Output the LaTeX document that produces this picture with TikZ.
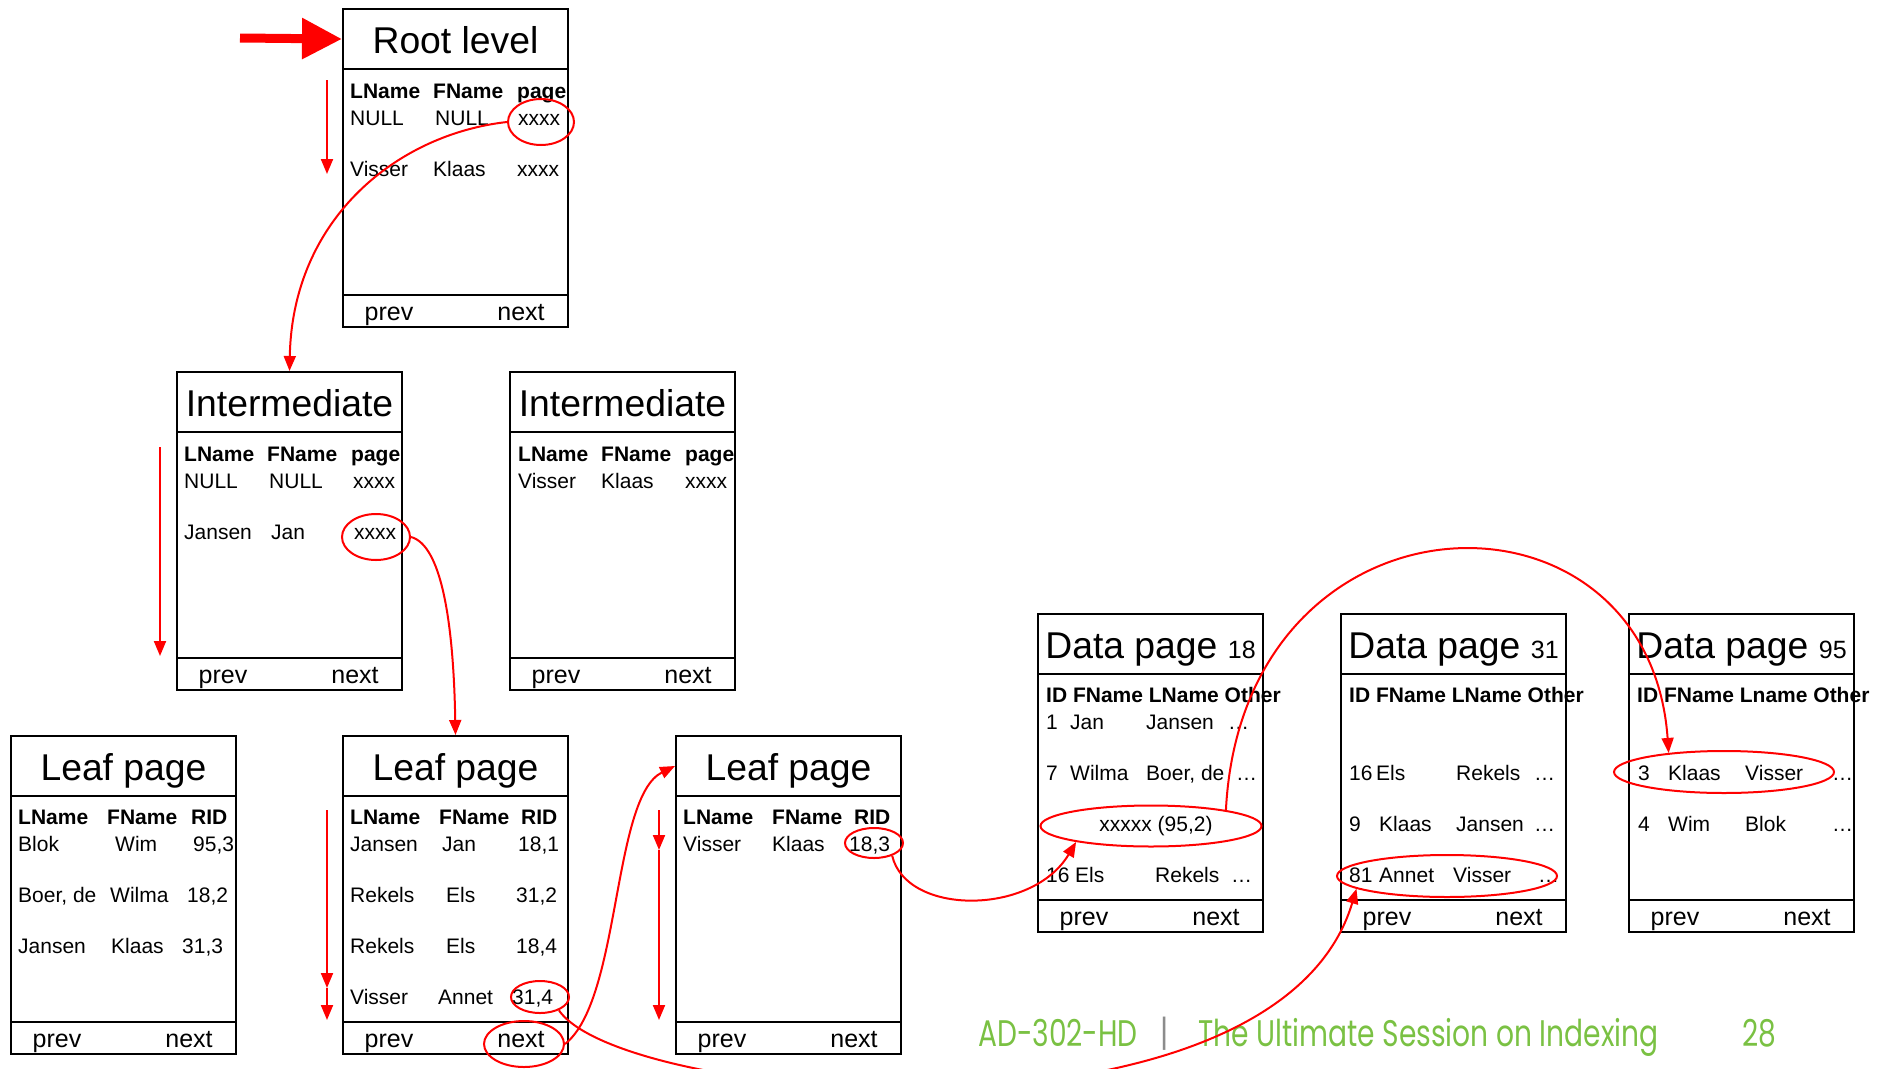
\documentclass[tikz,border=0pt]{standalone}
\usepackage{fontspec}
\setmainfont{Liberation Sans}
\newfontfamily\slidefont[FakeStretch=0.76]{Poppins}
\usetikzlibrary{arrows.meta,positioning,calc,shapes.geometric}
\definecolor{hlred}{RGB}{255,0,0}
\definecolor{slidegreen}{RGB}{122,193,67}
\definecolor{slidegray}{RGB}{140,140,140}

% one index page: frame, title band, prev/next band
\newcommand\idxpage[2]{%
  \node[pagebox] (#1) at (0,0) {};
  \node[titlebox] (#1-t) at (0,0) {#2};
  \draw[line width=2pt] (0,287) -- (225,287);
  \node[foot] (#1-prev) at (47,312) {prev};
  \node[foot] (#1-next) at (179,312) {next};
}
% one row of cells: name, style, baseline, x/text list
\newcommand\idxrow[4]{%
  \foreach \colx/\coltxt [count=\ci] in {#4}
    \node[#2] (#1-\ci) at (\colx,#3) {\coltxt};
}

\begin{document}
\begin{tikzpicture}[x=1pt, y=-1pt,
    pagebox/.style={draw, line width=2pt, minimum width=225pt, minimum height=318pt, anchor=north west, inner sep=0pt},
    titlebox/.style={draw, line width=2pt, minimum width=225pt, minimum height=60pt, anchor=north west, inner sep=0pt,
      text height=31pt, text depth=3pt, font=\fontsize{37.3}{42}\selectfont},
    hd/.style={anchor=base west, inner sep=0pt, font=\fontsize{21}{24}\selectfont\bfseries},
    cell/.style={anchor=base west, inner sep=0pt, font=\fontsize{21}{24}\selectfont},
    foot/.style={anchor=base, inner sep=0pt, font=\fontsize{25}{28}\selectfont},
    hit/.style={ellipse, draw=hlred, line width=2pt, inner sep=0pt},
    link/.style={hlred, line width=2pt, -{Triangle[length=15pt,width=12pt]}},
    slidetxt/.style={anchor=base west, inner sep=0pt, text=slidegreen, font={\fontsize{37}{40}\slidefont}}]
  \useasboundingbox (0,0) rectangle (1878,1068);
  \clip (0,0) rectangle (1878,1068);

  % root
  \begin{scope}[shift={(342,8)}]
    \idxpage{root}{Root level}
    \idxrow{root-h}{hd}{90}{8/LName, 91/FName, 175/page}
    \idxrow{root-a}{cell}{117}{8/NULL, 93/NULL, 176/xxxx}
    \idxrow{root-b}{cell}{168}{8/Visser, 91/Klaas, 175/xxxx}
  \end{scope}

  % intermediate level
  \begin{scope}[shift={(176,371)}]
    \idxpage{int1}{Intermediate}
    \idxrow{int1-h}{hd}{90}{8/LName, 91/FName, 175/page}
    \idxrow{int1-a}{cell}{117}{8/NULL, 93/NULL, 177/xxxx}
    \idxrow{int1-b}{cell}{168}{8/Jansen, 95/Jan, 178/xxxx}
  \end{scope}
  \begin{scope}[shift={(509,371)}]
    \idxpage{int2}{Intermediate}
    \idxrow{int2-h}{hd}{90}{9/LName, 92/FName, 176/page}
    \idxrow{int2-a}{cell}{117}{9/Visser, 92/Klaas, 176/xxxx}
  \end{scope}

  % leaf level
  \begin{scope}[shift={(10,735)}]
    \idxpage{leaf1}{Leaf page}
    \idxrow{leaf1-h}{hd}{89}{8/LName, 97/FName, 181/RID}
    \idxrow{leaf1-a}{cell}{116}{8/Blok, 105/Wim, 183/{95,3}}
    \idxrow{leaf1-b}{cell}{167}{8/{Boer, de}, 100/Wilma, 177/{18,2}}
    \idxrow{leaf1-c}{cell}{218}{8/Jansen, 101/Klaas, 172/{31,3}}
  \end{scope}
  \begin{scope}[shift={(342,735)}]
    \idxpage{leaf2}{Leaf page}
    \idxrow{leaf2-h}{hd}{89}{8/LName, 97/FName, 179/RID}
    \idxrow{leaf2-a}{cell}{116}{8/Jansen, 100/Jan, 176/{18,1}}
    \idxrow{leaf2-b}{cell}{167}{8/Rekels, 104/Els, 174/{31,2}}
    \idxrow{leaf2-c}{cell}{218}{8/Rekels, 104/Els, 174/{18,4}}
    \idxrow{leaf2-d}{cell}{269}{8/Visser, 96/Annet, 170/{31,4}}
  \end{scope}
  \begin{scope}[shift={(675,735)}]
    \idxpage{leaf3}{Leaf page}
    \idxrow{leaf3-h}{hd}{89}{8/LName, 97/FName, 179/RID}
    \idxrow{leaf3-a}{cell}{116}{8/Visser, 97/Klaas, 174/{18,3}}
  \end{scope}

  % data pages
  \begin{scope}[shift={(1037,613)}]
    \idxpage{data18}{Data page {\fontsize{25}{28}\selectfont 18}}
    \idxrow{data18-h}{hd}{89}{9/ID FName LName Other}
    \idxrow{data18-a}{cell}{116}{9/1, 33/Jan, 109/Jansen, 191/…}
    \idxrow{data18-b}{cell}{167}{9/7, 33/Wilma, 109/{Boer, de}, 199/…}
    \node[cell, anchor=base] (data18-c) at (119,218) {xxxxx (95,2)};
    \idxrow{data18-d}{cell}{269}{9/16, 38/Els, 118/Rekels, 194/…}
  \end{scope}
  \begin{scope}[shift={(1340,613)}]
    \idxpage{data31}{Data page {\fontsize{25}{28}\selectfont 31}}
    \idxrow{data31-h}{hd}{89}{9/ID FName LName Other}
    \idxrow{data31-b}{cell}{167}{9/16, 36/Els, 116/Rekels, 194/…}
    \idxrow{data31-c}{cell}{218}{9/9, 39/Klaas, 116/Jansen, 194/…}
    \idxrow{data31-d}{cell}{269}{9/81, 39/Annet, 113/Visser, 198/…}
  \end{scope}
  \begin{scope}[shift={(1628,613)}]
    \idxpage{data95}{Data page {\fontsize{25}{28}\selectfont 95}}
    \idxrow{data95-h}{hd}{89}{9/ID FName Lname Other}
    \idxrow{data95-b}{cell}{167}{10/3, 40/Klaas, 117/Visser, 204/…}
    \idxrow{data95-c}{cell}{218}{10/4, 40/Wim, 117/Blok, 204/…}
  \end{scope}

  % slide footer
  \node[slidetxt] (code) at (978,1046) {AD-302-HD};
  \node[slidetxt, text=slidegray] (bar) at (1160,1046) {|};
  \node[slidetxt] (session) at (1198,1046) {The Ultimate Session on Indexing};
  \node[slidetxt] (slideno) at (1742,1046) {28};

  % entries that are followed
  \node[hit, minimum width=66pt, minimum height=46pt] (hitroot) at (541,122) {};
  \node[hit, minimum width=68pt, minimum height=46pt] (hitint) at (376,537) {};
  \node[hit, minimum width=58pt, minimum height=32pt] (hit314) at (540,997) {};
  \node[hit, minimum width=80pt, minimum height=46pt] (hitnext) at (524,1044) {};
  \node[hit, minimum width=58pt, minimum height=30pt] (hit183) at (874,843) {};
  \node[hit, minimum width=221pt, minimum height=41pt] (hit952) at (1151,826) {};
  \node[hit, minimum width=220pt, minimum height=42pt] (hit81) at (1447,876) {};
  \node[hit, minimum width=220pt, minimum height=42pt] (hit3k) at (1724,772) {};

  % scan direction
  \coordinate (entry) at (240,38);
  \draw[hlred, line width=9pt, -{Triangle[length=40pt,width=39pt]}] (entry) -- (root-t.west);
  \coordinate (rscanA) at (327,80);
  \coordinate (rscanB) at (327,174);
  \coordinate (iscanA) at (160,447);
  \coordinate (iscanB) at (160,656);
  \coordinate (lscanA) at (327,810);
  \coordinate (lscanB) at (327,988);
  \coordinate (lscanC) at (327,1020);
  \coordinate (mscanA) at (659,810);
  \coordinate (mscanB) at (659,850);
  \coordinate (mscanC) at (659,1020);
  \draw[link] (rscanA) -- (rscanB);
  \draw[link] (iscanA) -- (iscanB);
  \draw[link] (lscanA) -- (lscanB);
  \draw[link] (lscanB) -- (lscanC);
  \draw[link] (mscanA) -- (mscanB);
  \draw[link] (mscanB) -- (mscanC);

  % lookups
  \draw[link] (hitroot.west) .. controls +(-108,12) and +(3,-154) .. (int1.north);
  \draw[link] (hitint.east) .. controls +(30,8) and +(-2,-115) .. (leaf2.north);
  \draw[link] (hitnext.east) .. controls +(56,-44) and +(-63,31) .. (leaf3-t.west);
  \draw[link] (hit314.-35) .. controls +(64,94) and +(-81,271) .. (hit81.188);
  \draw[link] (hit183.-35) .. controls +(14,60) and +(-44,74) .. (hit952.192);
  \draw[link] (hit952.12) .. controls +(17,-331) and +(-20,-284) .. (hit3k.161);
\end{tikzpicture}
\end{document}
